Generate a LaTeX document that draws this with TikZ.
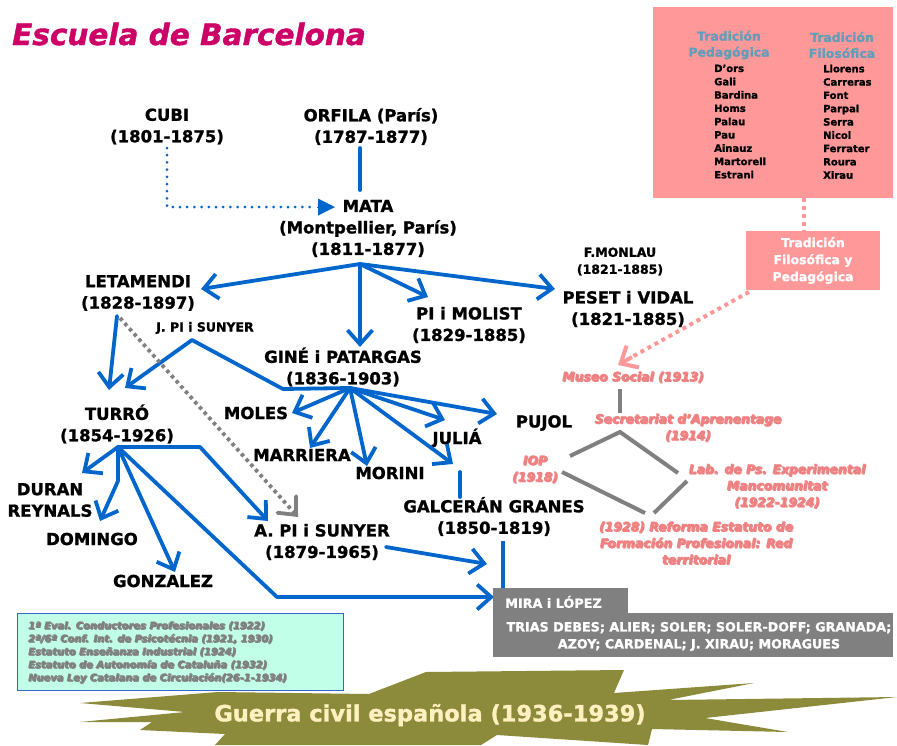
\documentclass[tikz,border=0pt]{standalone}
\usepackage{fontspec}
\setmainfont{DejaVu Sans}[BoldFont={DejaVu Sans Bold}, BoldItalicFont={DejaVu Sans Bold Oblique}, BoldFeatures={FakeBold=1.3}, BoldItalicFeatures={FakeBold=1.3}]
\usetikzlibrary{arrows.meta}
\definecolor{bl}{HTML}{0066CC}
\definecolor{titlec}{HTML}{CC0066}
\definecolor{pinkbox}{HTML}{FF9999}
\definecolor{headc}{HTML}{5F9DB8}
\definecolor{pinktext}{HTML}{EE8282}
\definecolor{shadowc}{HTML}{4A4A4A}
\definecolor{greyline}{HTML}{808080}
\definecolor{cyanfill}{HTML}{C2FFE8}
\definecolor{cyanedge}{HTML}{3366CC}
\definecolor{olive}{HTML}{8C8A3B}
\definecolor{cream}{HTML}{FFF0C0}
\newsavebox{\mysbox}
\newcommand{\shadowed}[3]{%
  \sbox{\mysbox}{\begin{tabular}{@{}#1@{}}#3\end{tabular}}%
  \rlap{\kern0.9pt\raisebox{-0.9pt}{\color{#2}\usebox{\mysbox}}}\usebox{\mysbox}}
\begin{document}
\begin{tikzpicture}[x=1pt,y=-1pt,
  person/.style={font=\fontsize{16.5}{21.5}\selectfont\bfseries, align=center, inner sep=0pt},
  smallp/.style={font=\fontsize{12.5}{17}\selectfont\bfseries, align=center, inner sep=0pt},
  conn/.style={draw=bl, line width=3.8pt, line cap=round, line join=round},
  arr/.style={conn, -{Straight Barb[length=14pt,width=25pt]}},
  gline/.style={draw=greyline, line width=4pt},
  pinkital/.style={font=\fontsize{12.4}{16.5}\selectfont\bfseries\itshape, text=pinktext, inner sep=0pt},
  listtxt/.style={font=\fontsize{10}{13.3}\selectfont\bfseries, align=left, inner sep=0pt, anchor=north west},
  headtxt/.style={font=\fontsize{12.4}{16}\selectfont\bfseries, align=center, inner sep=0pt, text=headc},
  evaltxt/.style={font=\fontsize{9.9}{13}\selectfont\bfseries\itshape, inner sep=0pt, anchor=north west, text=greyline}
]
\useasboundingbox (0,0) rectangle (897,745);

% title
\node[font=\fontsize{29.5}{32}\selectfont\bfseries\itshape, text=titlec, inner sep=0pt] (title) at (189,34) {Escuela de Barcelona};

% top-right pink box
\node[fill=pinkbox, minimum width=240pt, minimum height=191pt, anchor=north west, inner sep=0pt] (tradbox) at (653,7) {};
\node[headtxt] (hped) at (729,45) {Tradición\\Pedagógica};
\node[headtxt] (hfil) at (842,45) {Tradición\\Filosófica};
\node[listtxt] (lped) at (714,64.5) {D’ors\\Gali\\Bardina\\Homs\\Palau\\Pau\\Ainauz\\Martorell\\Estrani};
\node[listtxt] (lfil) at (823,64.5) {Llorens\\Carreras\\Font\\Parpal\\Serra\\Nicol\\Ferrater\\Roura\\Xirau};

\node[fill=pinkbox, minimum width=134pt, minimum height=59pt, inner sep=0pt, text=white,
      font=\fontsize{12.4}{17}\selectfont\bfseries, align=center] (tfp) at (813,260.5) {Tradición\\Filosófica y\\Pedagógica};
\draw[draw=pinkbox, line width=4.5pt, dash pattern=on 4pt off 4pt] (804,198) -- (tfp.north -| 804,0);

% persons
\node[person] (cubi) at (167,126.5) {CUBI\\(1801-1875)};
\node[person] (orfila) at (371,126.5) {ORFILA (París)\\(1787-1877)};
\node[person] (mata) at (368,228.5) {MATA\\(Montpellier, París)\\(1811-1877)};
\node[person] (letamendi) at (138,293) {LETAMENDI\\(1828-1897)};
\node[person] (pimolist) at (469,325) {PI i MOLIST\\(1829-1885)};
\node[smallp] (monlau) at (620,261.5) {F.MONLAU\\(1821-1885)};
\node[person] (peset) at (628,309) {PESET i VIDAL\\(1821-1885)};
\node[smallp] (jpi) at (205,328) {J. PI i SUNYER};
\node[person] (gine) at (343,367) {GINÉ i PATARGAS\\(1836-1903)};
\node[person] (turro) at (117,424) {TURRÓ\\(1854-1926)};
\node[person] (moles) at (256,413) {MOLES};
\node[person] (marriera) at (302,455) {MARRIERA};
\node[person] (morini) at (390,473) {MORINI};
\node[person] (julia) at (457,438) {JULIÁ};
\node[person] (pujol) at (544,423) {PUJOL};
\node[person] (galceran) at (494,516.5) {GALCERÁN GRANES\\(1850-1819)};
\node[person] (duran) at (50,500) {DURAN\\REYNALS};
\node[person] (domingo) at (92,539) {DOMINGO};
\node[person] (gonzalez) at (163,581) {GONZALEZ};
\node[person] (api) at (322,542) {A. PI i SUNYER\\(1879-1965)};

% coordinates
\coordinate (orfB) at (360,148);
\coordinate (mataT) at (360,190);
\coordinate (cubiB) at (167,148);
\coordinate (cubiC) at (167,207);
\coordinate (mataArr) at (335,207);
\coordinate (mataBr) at (360,264);
\coordinate (letTip) at (201,289);
\coordinate (gineTip) at (360,347);
\coordinate (pimTip) at (428,297);
\coordinate (pesTip) at (555,289);
\coordinate (letB) at (117,316);
\coordinate (turTip) at (109,390);
\coordinate (jpiB) at (192,340);
\coordinate (turTip2) at (125,388);
\coordinate (jpiK) at (283,389);
\coordinate (gineBr) at (350,388);
\coordinate (molTip) at (292,413);
\coordinate (marTip) at (310,448);
\coordinate (morTip) at (367,466);
\coordinate (julTip) at (445,420);
\coordinate (pujTip) at (497,414);
\coordinate (galTip) at (453,464);
\coordinate (galS1) at (460,472);
\coordinate (galS2) at (460,497);
\coordinate (letDot) at (120,318);
\coordinate (apiDot) at (298,517);
\coordinate (turBr) at (118,447);
\coordinate (durTip) at (82,473);
\coordinate (turK1) at (200,447);
\coordinate (apiTip) at (268,521);
\coordinate (turK2) at (118,481);
\coordinate (domTip) at (100,521);
\coordinate (gonTip) at (175,572);
\coordinate (turK3) at (277,597);
\coordinate (miraTip) at (494,597);
\coordinate (apiR) at (386,547);
\coordinate (apiTip2) at (487,564);
\coordinate (galB) at (503,541);
\coordinate (miraT) at (503,590);

% connectors
\draw[conn] (orfB) -- (mataT);
\draw[draw=bl, line width=3pt, line cap=round, dash pattern=on 0pt off 7.2pt] (cubiB) -- (cubiC) -- (314,207);
\draw[draw=bl, line width=0pt, -{Triangle[length=17pt,width=17pt]}] (317,207) -- (mataArr);
\draw[arr] (mataBr) -- (letTip);
\draw[arr] (mataBr) -- (gineTip);
\draw[arr] (mataBr) -- (pimTip);
\draw[arr] (mataBr) -- (pesTip);
\draw[arr] (letB) -- (turTip);
\draw[arr] (jpiB) -- (turTip2);
\draw[conn] (jpiB) -- (jpiK) -- (gineBr);
\draw[arr] (gineBr) -- (molTip);
\draw[arr] (gineBr) -- (marTip);
\draw[arr] (gineBr) -- (morTip);
\draw[arr] (gineBr) -- (julTip);
\draw[arr] (gineBr) -- (pujTip);
\draw[arr] (gineBr) -- (galTip);
\draw[conn] (galS1) -- (galS2);
\draw[draw=greyline, line width=3.8pt, dash pattern=on 3.5pt off 3.5pt, -{Straight Barb[length=14pt,width=25pt,line cap=round]}] (letDot) -- (apiDot);
\draw[arr] (turBr) -- (durTip);
\draw[arr] (turBr) -- (turK1) -- (apiTip);
\draw[arr] (turBr) -- (turK2) -- (domTip);
\draw[arr] (turBr) -- (gonTip);
\draw[arr] (turBr) -- (turK3) -- (miraTip);
\draw[arr] (apiR) -- (apiTip2);
\draw[conn, line cap=butt] (galB) -- (miraT);

% Mira box
\fill[greyline] (493,588) rectangle (628,614);
\node[fill=greyline, minimum width=400pt, minimum height=44pt, inner sep=0pt, anchor=north west] (mirabox) at (493,613) {};
\node[font=\fontsize{12.8}{16}\selectfont\bfseries, text=white, inner sep=0pt, anchor=west] (mira) at (505,602) {MIRA i LÓPEZ};
\node[font=\fontsize{12.7}{17}\selectfont\bfseries, text=white, inner sep=0pt, align=center] (disc) at (699,636.5) {TRIAS DEBES; ALIER; SOLER; SOLER-DOFF; GRANADA;\\AZOY; CARDENAL; J. XIRAU; MORAGUES};

% pink dotted arrow
\draw[draw=pinkbox, line width=4pt, dash pattern=on 4pt off 4pt] (749,292) -- (630,358);
\draw[draw=pinkbox, line width=4pt, -{Straight Barb[length=14pt,width=25pt]}] (632,357) -- (618,365);

% pink institutional texts
\node[pinkital] (museo) at (633,378) {\shadowed{c}{shadowc}{Museo Social (1913)}};
\node[pinkital] (secret) at (688,428.5) {\shadowed{c}{shadowc}{Secretariat d’Aprenentage\\(1914)}};
\node[pinkital] (iop) at (535,470) {\shadowed{c}{shadowc}{IOP\\(1918)}};
\node[pinkital] (lab) at (777,487) {\shadowed{c}{shadowc}{Lab. de Ps. Experimental\\Mancomunitat\\(1922-1924)}};
\node[pinkital] (reforma) at (696,544.5) {\shadowed{c}{shadowc}{(1928) Reforma Estatuto de\\Formación Profesional: Red\\territorial}};
\coordinate (musB) at (620,389);
\coordinate (secT) at (620,413);
\coordinate (secL) at (570,456);
\coordinate (secApex) at (620,432);
\coordinate (secR) at (678,473);
\coordinate (iopR) at (562,472);
\coordinate (refL) at (645,513);
\coordinate (refR) at (654,513);
\coordinate (labL) at (687,481);
\draw[gline] (musB) -- (secT);
\draw[gline] (secL) -- (secApex) -- (secR);
\draw[gline] (iopR) -- (refL);
\draw[gline] (refR) -- (labL);

% cyan box
\node[fill=cyanfill, draw=cyanedge, line width=1pt, minimum width=326pt, minimum height=77pt, inner sep=0pt, anchor=north west] (evalbox) at (17,613) {};
\node[evaltxt] (evals) at (28,619.5) {\shadowed{l}{black!80}{1ª Eval. Conductores Profesionales (1922)\\2ª/6ª Conf. Int. de Psicotécnia (1921, 1930)\\Estatuto Enseñanza Industrial (1924)\\Estatuto de Autonomía de Cataluña (1932)\\Nueva Ley Catalana de Circulación(26-1-1934)}};

% banner
\fill[olive] (80,703) -- (218,692) -- (369,694) -- (426,672) -- (624,670) -- (614,693) -- (754,683) -- (668,700) -- (897,697) -- (705,718) -- (788,732) -- (652,729) -- (648,745) -- (497,735) -- (481,745) -- (215,745) -- (225,734) -- (140,730) -- (152,722) -- (80,722) -- (185,712) -- cycle;
\node[font=\fontsize{22.5}{26}\selectfont\bfseries, text=cream, inner sep=0pt] (guerra) at (430,715) {Guerra civil española (1936-1939)};
\end{tikzpicture}
\end{document}
